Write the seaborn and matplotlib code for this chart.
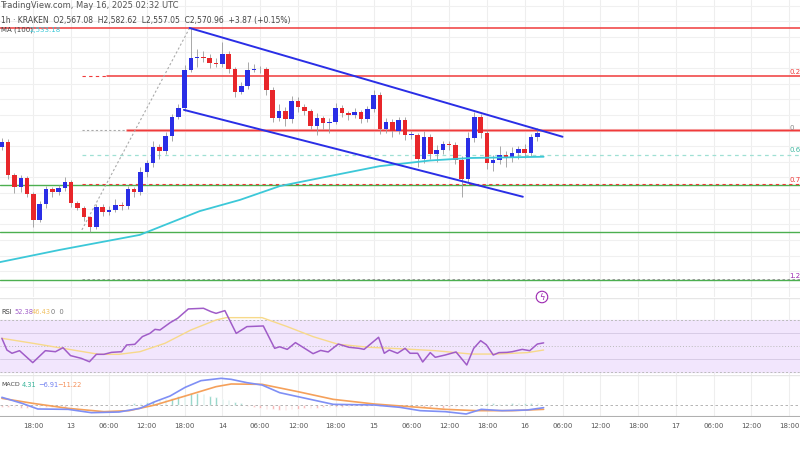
import numpy as np
import pandas as pd
import seaborn as sns
import matplotlib
matplotlib.use("Agg")
import matplotlib.pyplot as plt

# ETH/USD 1h candles (Kraken), 12 May 13:00 -> 16 May 02:00
first_open = 2549
closes = [2557, 2504, 2485, 2499, 2473, 2432, 2457, 2481, 2477, 2483,
          2493, 2459, 2451, 2437, 2421, 2453, 2445, 2448, 2456, 2454,
          2481, 2477, 2509, 2523, 2549, 2542, 2566, 2597, 2611, 2672,
          2691, 2693, 2691, 2683, 2681, 2697, 2673, 2637, 2646, 2672,
          2673, 2673, 2640, 2595, 2606, 2593, 2622, 2613, 2606, 2582,
          2595, 2587, 2589, 2611, 2603, 2600, 2605, 2593, 2609, 2632,
          2577, 2589, 2574, 2592, 2568, 2568, 2529, 2565, 2537, 2544,
          2553, 2552, 2528, 2497, 2563, 2597, 2571, 2523, 2528, 2536,
          2531, 2539, 2545, 2539, 2565, 2571]
wick_up = [6, 4, 3, 5, 4, 3, 5, 6, 4, 5, 8, 3, 4, 3, 2, 5, 4, 6, 10, 5,
           6, 4, 8, 5, 9, 5, 6, 5, 6, 8, 48, 12, 10, 6, 8, 20, 5, 4, 6, 12,
           8, 6, 4, 5, 12, 6, 8, 6, 5, 3, 8, 4, 6, 8, 5, 4, 6, 3, 6, 8,
           4, 6, 5, 5, 4, 6, 3, 10, 5, 8, 6, 6, 4, 6, 10, 8, 4, 5, 8, 14,
           6, 10, 6, 8, 4, 8]
wick_dn = [5, 6, 10, 8, 5, 12, 4, 6, 8, 5, 4, 6, 3, 6, 9, 4, 6, 5, 4, 6,
           4, 8, 5, 8, 6, 12, 5, 8, 4, 4, 4, 14, 6, 8, 5, 4, 6, 8, 4, 5,
           4, 6, 8, 6, 4, 10, 6, 8, 6, 4, 14, 10, 16, 4, 6, 8, 5, 6, 4, 5,
           8, 6, 10, 4, 8, 6, 12, 6, 8, 12, 6, 8, 6, 28, 4, 6, 8, 10, 12, 6,
           14, 6, 10, 8, 4, 6]

# 100-period moving average (cyan)
ma_t = [-1, 9.2, 21.9, 31.4, 37.8, 44.1, 52, 60, 68, 74.3, 86]
ma_v = [2363, 2384, 2408, 2446, 2464, 2486, 2502, 2518, 2527, 2531, 2533]

# RSI and its MA
rsi_t = [0, 0.8, 1.6, 2.8, 4.9, 6.9, 8.5, 9.7, 10.9, 12.6, 13.9, 15, 16.2, 17.4,
         19, 19.8, 21.1, 22.3, 23.5, 24.3, 25.1, 26.7, 27.9, 29.6, 32, 33.2, 34,
         35.4, 37.2, 38.9, 41.5, 43.3, 44.1, 45.3, 46.6, 47.8, 49.4, 50.6, 51.8,
         53.4, 55.1, 56.7, 57.5, 59.8, 60.7, 61.5, 62.8, 64, 64.8, 66, 66.8, 68,
         68.8, 70.4, 72.1, 73.8, 74.9, 76, 76.9, 78, 78.9, 80.2, 81, 82.6, 83.8,
         85, 86]
rsi_v = [55.9, 46.9, 44.4, 46.4, 37.2, 46.4, 45.6, 48.7, 42.6, 40.5, 37.9, 43.6,
         43.6, 45.1, 45.6, 50.8, 51.3, 57.2, 59.7, 62.8, 62.3, 67.9, 71.3, 78.5,
         79.0, 76.4, 75.1, 77.2, 59.7, 64.9, 65.4, 48.2, 49.4, 47.4, 52.6, 49.0,
         44.1, 46.6, 45.4, 51.5, 49.0, 48.2, 47.4, 56.7, 44.4, 46.9, 44.4, 48.2,
         44.4, 44.4, 37.7, 44.9, 41.3, 43.1, 45.4, 35.4, 48.2, 54.1, 51.0, 43.1,
         44.9, 45.1, 45.6, 47.4, 46.4, 51.5, 52.4]
rsima_t = [0, 4.9, 9.7, 15.4, 18.6, 21.9, 25.9, 30, 34, 35.6, 41.3, 45.3, 49.4,
           53.4, 58.3, 63.2, 68.8, 74.5, 78.5, 83.4, 86]
rsima_v = [55.9, 52.1, 48.2, 43.6, 43.6, 45.6, 52.1, 62.3, 70.0, 71.8, 71.8, 64.9,
           57.2, 51.3, 49.0, 47.9, 46.4, 43.8, 43.8, 44.9, 46.9]

# MACD, signal, histogram
macd_t = [0, 3.2, 5.7, 10.5, 14.2, 18.6, 21.9, 24.3, 26.7, 29.1, 31.6, 34.8, 36.4,
          38.9, 41.3, 44.1, 47, 52.6, 59.1, 63.2, 66.4, 70.4, 73.7, 76.1, 79.4,
          83.4, 86]
macd_v = [19.8, 4.3, -10.3, -11.2, -19.8, -18.1, -8.6, 8.6, 23.2, 45.6, 62.8, 68.8,
          66.2, 57.6, 51.6, 31.8, 21.5, 1.7, 0, -6.0, -14.6, -17.2, -23.2, -11.2,
          -14.6, -12.9, -6.9]
sig_t = [0, 4.9, 10.5, 16.2, 20.2, 24.3, 29.1, 34, 36.4, 41.3, 47, 52.6, 59.1,
         64.8, 70.4, 75.3, 81, 86]
sig_v = [17.2, 4.3, -8.6, -17.2, -14.6, 0, 23.2, 47.3, 54.2, 53.3, 34.4, 14.6,
         2.6, -4.3, -11.2, -14.6, -14.6, -11.2]
hist = [-4, -5, -6, -8, -7, -6, -5, -6, -5, -4, -4, -3, -4, -3, -2, -2, -1, -1, 0, 1,
        3, 4, 6, 8, 10, 13, 16, 19, 22, 26, 30, 32, 28, 24, 20, 16, 12, 8, 4, -2,
        -5, -8, -10, -11, -12, -12, -11, -10, -9, -8, -7, -6, -5, -5, -4, -4, -3, -3, -3, -2,
        -2, -3, -3, -4, -4, -5, -5, -4, -4, -6, -7, -6, -5, -3, -1, 2, 3, 4, 4, 3,
        3, 4, 4, 5, 5, 6]

tick_hours = [5, 11, 17, 23, 29, 35, 41, 47, 53, 59, 65, 71, 77, 83, 89, 95, 101,
              107, 113, 119, 125]
tick_labels = ["18:00", "13", "06:00", "12:00", "18:00", "14", "06:00", "12:00",
               "18:00", "15", "06:00", "12:00", "18:00", "16", "06:00", "12:00",
               "18:00", "17", "06:00", "12:00", "18:00"]

# fib / support levels (price)
levels = [2739, 2662, 2576, 2536, 2488, 2413, 2336]

UP, DN = "#2a2ee6", "#e8262a"
XL = (-0.3, 126.7)
W, H = 800, 450

sns.set_style("white")
fig = plt.figure(figsize=(8, 4.5), dpi=100)


def px_axes(top, bottom):
    return fig.add_axes([0, 1 - bottom / H, 1, (bottom - top) / H])


def clean(ax):
    for s in ax.spines.values():
        s.set_visible(False)
    ax.set_xticks([])
    ax.set_yticks([])
    ax.set_xlim(*XL)
    for t in tick_hours:
        ax.axvline(t, color="#eeeeee", lw=0.8, zorder=0)


# ---- price panel
ax = px_axes(0, 297)
clean(ax)
ax.set_ylim(2783.8 - 1.6 * 297, 2783.8)
for p in np.arange(2325, 2800, 25):
    ax.axhline(p, color="#f0f0f0", lw=0.8, zorder=0)

opens = [first_open] + closes[:-1]
df = pd.DataFrame({"t": np.arange(len(closes)), "o": opens, "c": closes})
df["hi"] = df[["o", "c"]].max(axis=1) + np.array(wick_up)
df["lo"] = df[["o", "c"]].min(axis=1) - np.array(wick_dn)
cols = np.where(df["c"] >= df["o"], UP, DN)
ax.vlines(df["t"], df["lo"], df["hi"], colors="#9a9a9a", lw=0.6, zorder=3)
body = (df["c"] - df["o"]).abs().clip(lower=1.2)
ax.bar(df["t"], body, bottom=df[["o", "c"]].min(axis=1), width=0.72,
       color=cols, zorder=4, linewidth=0)

sns.lineplot(x=ma_t, y=ma_v, ax=ax, color="#3cc8d8", lw=1.3, zorder=5)

red = "#f03a3a"
ax.axhline(levels[0], color=red, lw=1.1, zorder=2)
ax.plot([12.7, 16.7], [levels[1]] * 2, color=red, lw=0.8, ls=(0, (3, 3)))
ax.plot([16.7, XL[1]], [levels[1]] * 2, color=red, lw=1.1)
ax.plot([12.7, 19.8], [levels[2]] * 2, color="#aaaaaa", lw=0.8, ls=(0, (2, 2)))
ax.plot([19.8, XL[1]], [levels[2]] * 2, color="#f5a0a0", lw=2.2)
ax.plot([19.8, XL[1]], [levels[2]] * 2, color=red, lw=0.8)
ax.plot([12.7, XL[1]], [levels[3]] * 2, color="#9fe0d4", lw=0.9, ls=(0, (3, 3)))
ax.axhline(levels[4], color="#4caf50", lw=1.0)
ax.plot([12.7, XL[1]], [levels[4] + 2] * 2, color=red, lw=0.8, ls=(0, (3, 3)))
ax.axhline(levels[5], color="#4caf50", lw=1.0)
ax.axhline(levels[6], color="#4caf50", lw=1.0)
ax.plot([12.7, XL[1]], [levels[6] + 1] * 2, color="#8a8a8a", lw=0.6, ls=(0, (3, 3)))
# fib draw line
ax.plot([12.7, 29.8], [2416, 2739], color="#aaaaaa", lw=0.8, ls=(0, (2, 2)))
# descending channel
ax.plot([29.8, 89], [2739, 2565], color=UP, lw=1.4, zorder=6)
ax.plot([28.9, 82.7], [2608, 2469], color=UP, lw=1.4, zorder=6)

for y, s, c in [(72, "0.2", red), (128, "0", "#888888"), (150, "0.6", "#3fb8a0"),
                (180, "0.7", red), (276, "1.2", "#9c27b0")]:
    fig.text(789 / W, 1 - y / H, s, fontsize=5, color=c, va="center")

# lightning badge
fig.text(542 / W, 1 - 297 / H, "ϟ", fontsize=6, color="#9c27b0", ha="center",
         va="center", bbox=dict(boxstyle="circle,pad=0.15", fc="white", ec="#9c27b0", lw=0.8))

# ---- RSI panel
ar = px_axes(298, 375)
clean(ar)
ar.set_ylim(30 + (372 - 375) * 0.769, 30 + (372 - 298) * 0.769)
ar.axhspan(30, 70, color="#f2e6fd", zorder=0)
for lv, ls in [(70, (0, (2, 2))), (30, (0, (2, 2))), (50, (0, (1, 2)))]:
    ar.axhline(lv, color="#bbbbbb", lw=0.7, ls=ls)
ar.axhline(60, color="#d8cce6", lw=0.7)
ar.axhline(40, color="#d8cce6", lw=0.7)
sns.lineplot(x=rsima_t, y=rsima_v, ax=ar, color="#f7d98a", lw=1.0)
sns.lineplot(x=rsi_t, y=rsi_v, ax=ar, color="#a05cc8", lw=1.1)
ar.axhline(ar.get_ylim()[1], color="#e6e6e6", lw=1)

# ---- MACD panel
am = px_axes(375, 417)
clean(am)
am.set_ylim((405 - 417) * 2.58, (405 - 375) * 2.58)
am.axhline(0, color="#aaaaaa", lw=0.6, ls=(0, (3, 3)))
hc = ["#38b49a" if h >= 0 else "#f07070" for h in hist]
am.bar(np.arange(len(hist)), hist, width=0.25, color=hc, alpha=0.7)
sns.lineplot(x=sig_t, y=sig_v, ax=am, color="#f5a05a", lw=1.2)
sns.lineplot(x=macd_t, y=macd_v, ax=am, color="#7f8ff5", lw=1.2)
am.axhline(am.get_ylim()[1], color="#e6e6e6", lw=1)
am.axhline(am.get_ylim()[0], color="#b0b0b0", lw=1.5)

# ---- time axis
ax_t = px_axes(417, 432)
ax_t.set_xlim(*XL)
ax_t.set_ylim(0, 1)
ax_t.axis("off")
for t, lab in zip(tick_hours, tick_labels):
    ax_t.text(t, 0.4, lab, fontsize=5, color="#555555", ha="center", va="center")

# ---- header text
fig.text(0, 1 - 6 / H, "TradingView.com, May 16, 2025 02:32 UTC", fontsize=6,
         color="#555555", va="center")
fig.text(1 / W, 1 - 20 / H,
         "1h · KRAKEN  O2,567.08  H2,582.62  L2,557.05  C2,570.96  +3.87 (+0.15%)",
         fontsize=5.5, color="#444444", va="center")
fig.text(1 / W, 1 - 30 / H, "MA (100)", fontsize=5, color="#444444", va="center")
fig.text(30 / W, 1 - 30 / H, "2,533.18", fontsize=5, color="#3cc8d8", va="center")
fig.text(1 / W, 1 - 312 / H, "RSI", fontsize=4.8, color="#444444", va="center")
fig.text(14 / W, 1 - 312 / H, "52.38", fontsize=4.8, color="#a05cc8", va="center")
fig.text(32 / W, 1 - 312 / H, "46.43", fontsize=4.8, color="#f0c060", va="center")
fig.text(51 / W, 1 - 312 / H, "0  0", fontsize=4.8, color="#777777", va="center")
fig.text(1 / W, 1 - 385 / H, "MACD", fontsize=4.5, color="#444444", va="center")
fig.text(22 / W, 1 - 385 / H, "4.31", fontsize=4.8, color="#38b49a", va="center")
fig.text(38 / W, 1 - 385 / H, "−6.91", fontsize=4.8, color="#6f7ff0", va="center")
fig.text(57 / W, 1 - 385 / H, "−11.22", fontsize=4.8, color="#f5905a", va="center")

fig.savefig("out.png", dpi=100)
